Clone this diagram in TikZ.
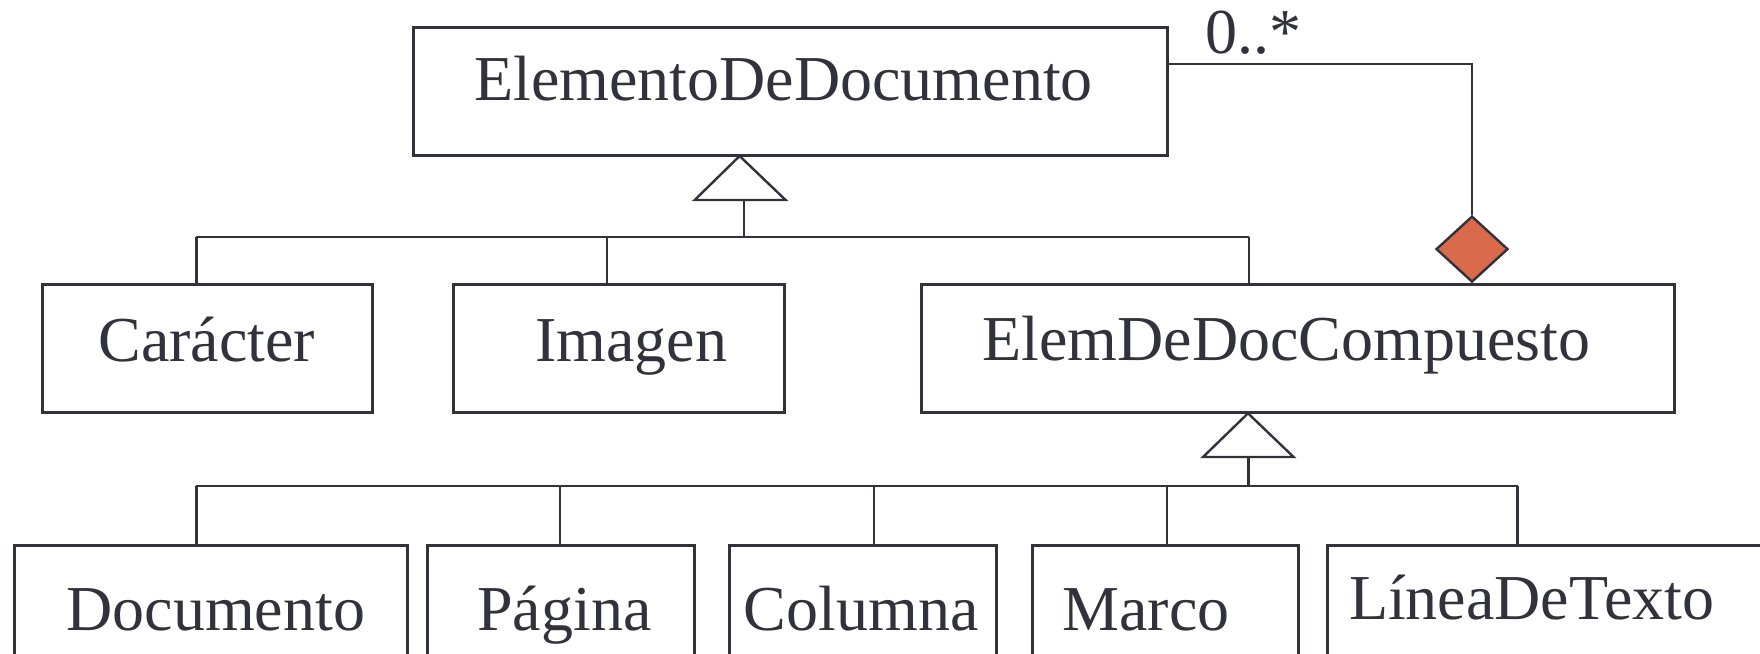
\documentclass[tikz,border=0pt]{standalone}
\usepackage{fontspec}
\setmainfont{Liberation Serif}
\usetikzlibrary{shapes.geometric}
\definecolor{ink}{RGB}{50,50,60}
\definecolor{compfill}{RGB}{217,106,75}
\tikzset{
  classbox/.style={draw=ink, line width=1.5pt, rectangle, inner sep=0pt, minimum height=64.35pt},
  classname/.style={inner sep=0pt, anchor=base west, text=ink, font=\fontsize{32}{38}\selectfont},
  link/.style={draw=ink, line width=1.1pt},
  genarrow/.style={draw=ink, line width=1.2pt, fill=white, line join=miter},
  aggdiamond/.style={diamond, draw=ink, line width=1.2pt, fill=compfill, inner sep=0pt,
                     minimum width=36pt, minimum height=33pt, aspect=1.09},
}
\begin{document}
\begin{tikzpicture}[x=0.5pt, y=-0.5pt]
\useasboundingbox (0,0) rectangle (1760,653);
\fill[white] (0,0) rectangle (1760,653);
\begin{scope}
\clip (0,0) rectangle (1760,653);

% class boxes
\node[classbox, minimum width=376.85pt] (elem) at (790.5,91.6) {};
\node[classbox, minimum width=165pt]    (car)  at (207,348.4) {};
\node[classbox, minimum width=165.3pt]  (img)  at (618.7,348.4) {};
\node[classbox, minimum width=376.5pt]  (comp) at (1297.5,348.4) {};
\node[classbox, minimum width=196.4pt]  (doc)  at (211,610) {};
\node[classbox, minimum width=133.5pt]  (pag)  at (560.5,610) {};
\node[classbox, minimum width=133.5pt]  (col)  at (862.5,610) {};
\node[classbox, minimum width=133.3pt]  (mar)  at (1165.3,610) {};
\node[classbox, minimum width=236.5pt]  (lin)  at (1563.5,610) {};

% class names
\node[classname] (telem) at (474,100.7)   {ElementoDeDocumento};
\node[classname] (tcar)  at (98,361)      {Carácter};
\node[classname] (timg)  at (535,361)     {Imagen};
\node[classname] (tcomp) at (982,360.5)   {ElemDeDocCompuesto};
\node[classname] (tdoc)  at (66,630.7)    {Documento};
\node[classname] (tpag)  at (477,630.7)   {Página};
\node[classname] (tcol)  at (743.5,630.7) {Columna};
\node[classname] (tmar)  at (1062,630.7)  {Marco};
\node[classname] (tlin)  at (1348.6,619)  {LíneaDeTexto};
\node[classname] (mult)  at (1205,53.3)   {0..*};

% generalisation: ElementoDeDocumento
\coordinate (apexA) at (739.6,156);
\coordinate (baseA) at (744,200);
\coordinate (busA)  at (744,237.3);
\coordinate (sA-car)  at (196.4,237.3);
\coordinate (sA-img)  at (606.6,237.3);
\coordinate (sA-comp) at (1248.7,237.3);
\draw[link] (sA-car) -- (sA-comp);
\draw[link] (baseA) -- (busA);
\draw[link] (sA-car) -- (sA-car |- car.north);
\draw[link] (sA-img) -- (sA-img |- img.north);
\draw[link] (sA-comp) -- (sA-comp |- comp.north);
\draw[genarrow] (apexA) -- (694.7,200) -- (785.6,200) -- cycle;

% generalisation: ElemDeDocCompuesto
\coordinate (apexB) at (1248,413.3);
\coordinate (baseB) at (1248.5,457);
\coordinate (busB)  at (1248.5,486);
\coordinate (sB-doc) at (196.4,486);
\coordinate (sB-pag) at (560,486);
\coordinate (sB-col) at (873.7,486);
\coordinate (sB-mar) at (1167.3,486);
\coordinate (sB-lin) at (1517.5,486);
\draw[link] (sB-doc) -- (sB-lin);
\draw[link] (baseB) -- (busB);
\draw[link] (sB-doc) -- (sB-doc |- doc.north);
\draw[link] (sB-pag) -- (sB-pag |- pag.north);
\draw[link] (sB-col) -- (sB-col |- col.north);
\draw[link] (sB-mar) -- (sB-mar |- mar.north);
\draw[link] (sB-lin) -- (sB-lin |- lin.north);
\draw[genarrow] (apexB) -- (1203,457) -- (1293.6,457) -- cycle;

% composition: ElemDeDocCompuesto contains ElementoDeDocumento
\node[aggdiamond, anchor=south] (agg) at (1472,283.3) {};
\coordinate (aggout) at (1167.3,64.3);
\draw[link] (aggout) -| (agg.north);
\end{scope}
\end{tikzpicture}
\end{document}
